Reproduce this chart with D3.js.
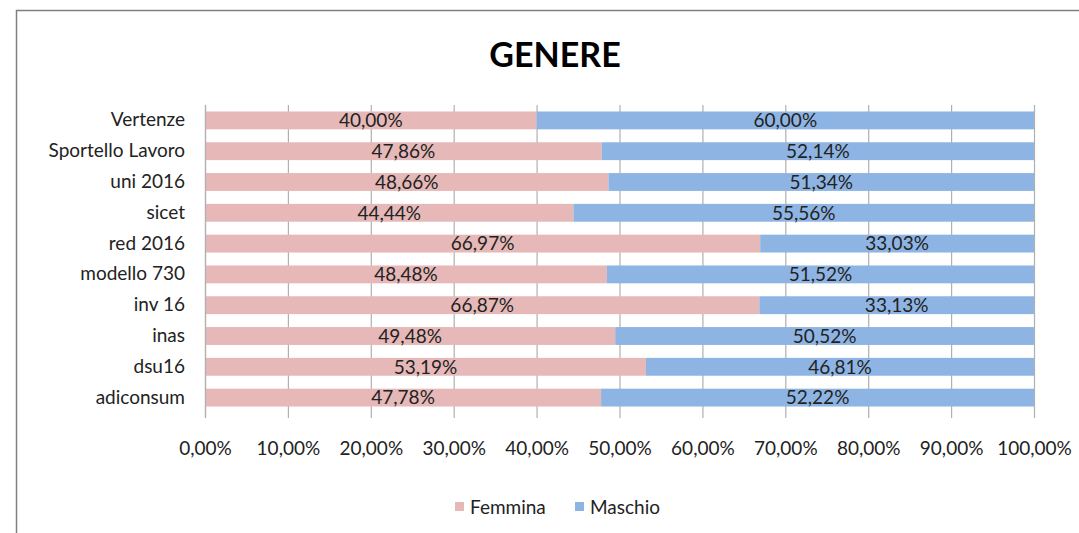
<!DOCTYPE html>
<html>
<head>
<meta charset="utf-8">
<script src="https://cdn.jsdelivr.net/npm/d3@7"></script>
<style>
  body { margin: 0; background: #fff; }
  svg { display: block; }
  svg text { font-family: Lato, "Open Sans", sans-serif; }
</style>
</head>
<body>
<div id="chart"></div>
<script>
var categories = ["Vertenze", "Sportello Lavoro", "uni 2016", "sicet", "red 2016",
                  "modello 730", "inv 16", "inas", "dsu16", "adiconsum"];
var femmina = [40.00, 47.86, 48.66, 44.44, 66.97, 48.48, 66.87, 49.48, 53.19, 47.78];
var maschio = [60.00, 52.14, 51.34, 55.56, 33.03, 51.52, 33.13, 50.52, 46.81, 52.22];
var seriesNames = ["Femmina", "Maschio"];
var tickValues = [0, 10, 20, 30, 40, 50, 60, 70, 80, 90, 100];

var width = 1079, height = 533;
var colors = ["#E6B9B8", "#8EB4E3"];
var fs = "19px";

var svg = d3.select("#chart").append("svg")
    .attr("width", width)
    .attr("height", height);

// outer frame (runs past the right and bottom edge)
svg.append("path")
    .attr("d", "M16.5," + height + "V10.5H" + width)
    .attr("fill", "none")
    .attr("stroke", "#7f7f7f")
    .attr("stroke-width", 1.5);

svg.append("text")
    .attr("x", 555)
    .attr("y", 67)
    .attr("text-anchor", "middle")
    .style("font-size", "34px")
    .style("font-weight", "bold")
    .attr("fill", "#000")
    .text("GENERE");

var margin = {left: 205, right: 45, top: 105, bottom: 120};
var x = d3.scaleLinear().domain([0, 100]).range([margin.left, width - margin.right]);
var y = d3.scaleBand().domain(categories)
    .range([margin.top, height - margin.bottom])
    .paddingInner(0.42).paddingOuter(0.21);

// gridlines + ticks
svg.append("g")
    .selectAll("line")
    .data(tickValues)
    .enter().append("line")
      .attr("x1", function(d) { return x(d) + 0.5; })
      .attr("x2", function(d) { return x(d) + 0.5; })
      .attr("y1", margin.top)
      .attr("y2", height - margin.bottom + 5)
      .attr("stroke", "#b0b0b0")
      .attr("stroke-width", 1.2);

var xAxis = svg.append("g")
    .attr("transform", "translate(0," + (height - margin.bottom) + ")")
    .call(d3.axisBottom(x).tickValues(tickValues).tickSize(0).tickPadding(29)
      .tickFormat(function(d) { return d.toFixed(2).replace(".", ",") + "%"; }));
xAxis.select(".domain").remove();
xAxis.selectAll("text").style("font-size", fs).attr("fill", "#222");

var yAxis = svg.append("g")
    .attr("transform", "translate(" + margin.left + ",0)")
    .call(d3.axisLeft(y).tickSize(0).tickPadding(20));
yAxis.select(".domain").remove();
yAxis.selectAll("text").style("font-size", fs).attr("fill", "#222");

var rows = categories.map(function(c, i) {
  return {cat: c, vals: [femmina[i], maschio[i]]};
});

rows.forEach(function(r) {
  var start = 0;
  r.vals.forEach(function(v, j) {
    svg.append("rect")
      .attr("x", x(start))
      .attr("y", y(r.cat))
      .attr("width", x(start + v) - x(start))
      .attr("height", y.bandwidth())
      .attr("fill", colors[j]);
    svg.append("text")
      .attr("x", (x(start) + x(start + v)) / 2)
      .attr("y", y(r.cat) + y.bandwidth() / 2)
      .attr("dy", "0.36em")
      .attr("text-anchor", "middle")
      .style("font-size", fs)
      .attr("fill", "#222")
      .text(v.toFixed(2).replace(".", ",") + "%");
    start += v;
  });
});

// left axis line on top of bars
svg.append("line")
    .attr("x1", margin.left + 0.5).attr("x2", margin.left + 0.5)
    .attr("y1", margin.top).attr("y2", height - margin.bottom + 5)
    .attr("stroke", "#b0b0b0").attr("stroke-width", 1.2);

// legend
var legend = svg.append("g");
var lx = [455, 575];
seriesNames.forEach(function(s, i) {
  legend.append("rect")
    .attr("x", lx[i]).attr("y", 502)
    .attr("width", 9).attr("height", 9)
    .attr("fill", colors[i]);
  legend.append("text")
    .attr("x", lx[i] + 15).attr("y", 507)
    .attr("dy", "0.36em")
    .style("font-size", fs)
    .attr("fill", "#222")
    .text(s);
});
</script>
</body>
</html>
